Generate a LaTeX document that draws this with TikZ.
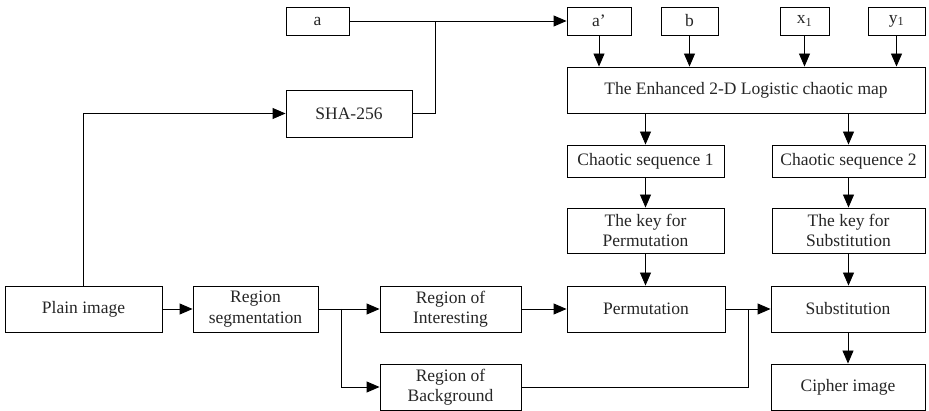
\documentclass[tikz,border=0pt]{standalone}
\usepackage{fontspec}
\setmainfont{Liberation Serif}
\usetikzlibrary{arrows.meta}
\begin{document}
\begin{tikzpicture}[x=1pt,y=-1pt,
  box/.style={draw,line width=0.9pt,inner sep=0pt,align=center,
    font=\fontsize{17.5}{20.5}\selectfont,text=black!85},
  arr/.style={-{Triangle[length=13pt,width=11pt]}},
  every path/.style={line width=0.9pt}]
\useasboundingbox (0,0) rectangle (929,411);
% top row
\node[box,minimum width=63pt,minimum height=28pt] (a) at (317.5,21) {a};
\node[box,minimum width=64pt,minimum height=28pt] (ap) at (599,21) {a’};
\node[box,minimum width=57pt,minimum height=28pt] (b) at (689.5,21) {b};
\node[box,minimum width=49pt,minimum height=28pt] (x1) at (804.5,21) {x\textsubscript{1}};
\node[box,minimum width=57pt,minimum height=28pt] (y1) at (896.5,21) {y\textsubscript{1}};
\node[box,minimum width=126pt,minimum height=47pt] (sha) at (349,113.5) {SHA-256};
\node[box,minimum width=358pt,minimum height=46pt] (map) at (746,90) {The Enhanced 2-D Logistic chaotic map};
\node[box,minimum width=157pt,minimum height=32pt] (cs1) at (645.5,161) {Chaotic sequence 1};
\node[box,minimum width=153pt,minimum height=32pt] (cs2) at (848.5,161) {Chaotic sequence 2};
\node[box,minimum width=157pt,minimum height=45pt] (k1) at (645.5,230.5) {The key for\\Permutation};
\node[box,minimum width=153pt,minimum height=45pt] (k2) at (848.5,230.5) {The key for\\Substitution};
\node[box,minimum width=157pt,minimum height=46pt] (plain) at (83.5,309) {Plain image};
\node[box,minimum width=125pt,minimum height=46pt] (seg) at (255.5,309) {Region\\segmentation};
\node[box,minimum width=141pt,minimum height=46pt] (roi) at (450.5,309) {Region of\\Interesting};
\node[box,minimum width=141pt,minimum height=46pt] (rob) at (450.5,387) {Region of\\Background};
\node[box,minimum width=158pt,minimum height=46pt] (perm) at (646,309) {Permutation};
\node[box,minimum width=154pt,minimum height=46pt] (sub) at (848,309) {Substitution};
\node[box,minimum width=154pt,minimum height=46pt] (ciph) at (848,387) {Cipher image};
% junctions
\coordinate (j1) at (435,21);
\coordinate (j2) at (341,309);
\coordinate (j3) at (748,309);
% connectors
\draw (a.east) -- (j1);
\draw (sha.east) -| (j1);
\draw[arr] (j1) -- (ap.west);
\draw[arr] (plain.north) |- (sha.west);
\foreach \n in {ap,b,x1,y1} \draw[arr] (\n.south) -- (\n.south |- map.north);
\draw[arr] (cs1.north |- map.south) -- (cs1.north);
\draw[arr] (cs2.north |- map.south) -- (cs2.north);
\draw[arr] (cs1) -- (k1);
\draw[arr] (cs2) -- (k2);
\draw[arr] (k1.south) -- (k1.south |- perm.north);
\draw[arr] (k2.south) -- (k2.south |- sub.north);
\draw[arr] (plain) -- (seg);
\draw[arr] (seg) -- (roi);
\draw[arr] (j2) |- (rob.west);
\draw[arr] (roi) -- (perm);
\draw[arr] (perm) -- (sub);
\draw (rob.east) -| (j3);
\draw[arr] (sub) -- (ciph);
\end{tikzpicture}
\end{document}
